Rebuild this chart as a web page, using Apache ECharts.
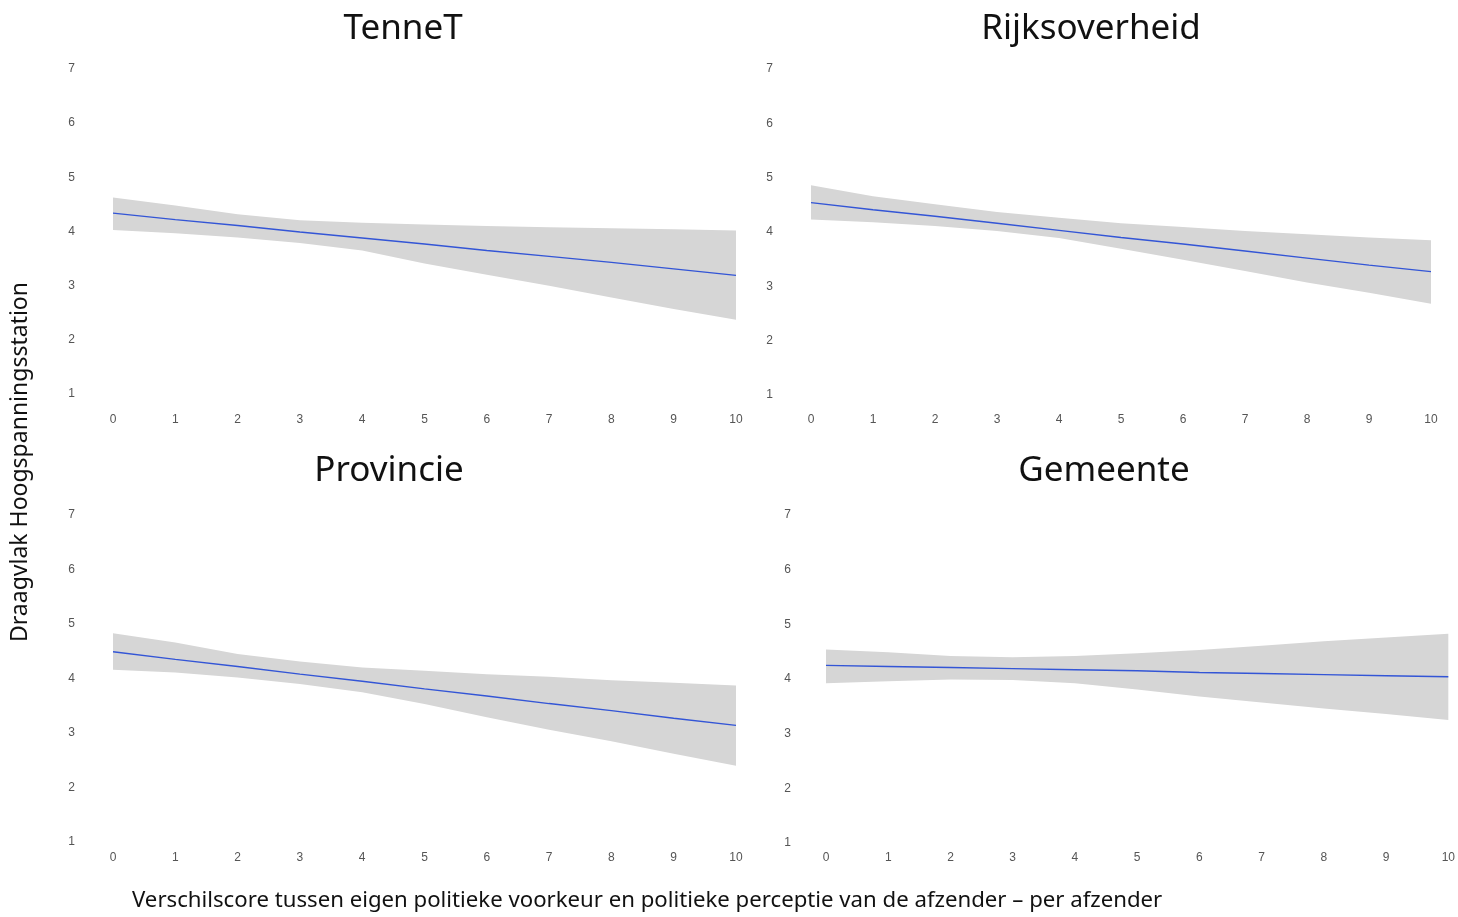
<!DOCTYPE html>
<html>
<head>
<meta charset="utf-8">
<script src="https://cdn.jsdelivr.net/npm/echarts@6/dist/echarts.min.js"></script>
<style>html,body{margin:0;padding:0;background:#fff}#c{width:1458px;height:917px}</style>
</head>
<body>
<div id="c"></div>
<script>
var categories = ['0','1','2','3','4','5','6','7','8','9','10'];
var yTicks = [1,7];
var panelTitles = ['TenneT','Rijksoverheid','Provincie','Gemeente'];

var tennetFit   = [4.34,4.22,4.11,3.99,3.88,3.77,3.65,3.54,3.43,3.31,3.19];
var tennetUpper = [4.63,4.48,4.32,4.21,4.16,4.13,4.10,4.08,4.06,4.04,4.02];
var tennetLower = [4.03,3.97,3.89,3.79,3.65,3.41,3.20,3.00,2.78,2.57,2.37];

var rijkFit   = [4.54,4.41,4.29,4.16,4.03,3.90,3.78,3.65,3.52,3.39,3.27];
var rijkUpper = [4.86,4.66,4.51,4.37,4.26,4.16,4.09,4.02,3.96,3.90,3.85];
var rijkLower = [4.23,4.18,4.11,4.02,3.89,3.69,3.49,3.28,3.07,2.88,2.68];

var provFit   = [4.49,4.35,4.22,4.08,3.95,3.81,3.68,3.54,3.41,3.27,3.14];
var provUpper = [4.83,4.66,4.45,4.31,4.20,4.14,4.08,4.03,3.97,3.92,3.87];
var provLower = [4.16,4.11,4.02,3.90,3.75,3.53,3.29,3.06,2.85,2.62,2.40];

var gemFit   = [4.25,4.23,4.21,4.19,4.17,4.15,4.12,4.10,4.08,4.06,4.04];
var gemUpper = [4.54,4.49,4.42,4.40,4.42,4.47,4.53,4.61,4.69,4.76,4.83];
var gemLower = [3.92,3.96,3.99,3.98,3.92,3.81,3.68,3.57,3.46,3.36,3.25];

var panels = [
  {fit: tennetFit, up: tennetUpper, lo: tennetLower},
  {fit: rijkFit, up: rijkUpper, lo: rijkLower},
  {fit: provFit, up: provUpper, lo: provLower},
  {fit: gemFit, up: gemUpper, lo: gemLower}
];

var grids = [
  {left: 113, width: 623, top: 69, height: 325},
  {left: 811, width: 620, top: 69, height: 326},
  {left: 113, width: 623, top: 515, height: 327},
  {left: 826, width: 626, top: 515, height: 328}
];
var yMargins = [38, 38, 38, 35];
var xMargins = [20, 19, 10, 9];
var titlePos = [{x: 398, y: 7}, {x: 1086, y: 7}, {x: 384, y: 449}, {x: 1099, y: 449}];

var labelStyle = {color: '#555', fontSize: 12, fontFamily: 'Liberation Sans, Arial, sans-serif'};

var xAxes = [], yAxes = [], series = [], titles = [];
panels.forEach(function (p, i) {
  xAxes.push({
    type: 'category', gridIndex: i, data: categories, boundaryGap: false,
    axisLine: {show: false}, axisTick: {show: false}, splitLine: {show: false},
    axisLabel: Object.assign({margin: xMargins[i], interval: 0}, labelStyle)
  });
  yAxes.push({
    type: 'value', gridIndex: i, min: yTicks[0], max: yTicks[1], interval: 1,
    axisLine: {show: false}, axisTick: {show: false}, splitLine: {show: false},
    axisLabel: Object.assign({margin: yMargins[i]}, labelStyle)
  });
  series.push({
    type: 'line', xAxisIndex: i, yAxisIndex: i, stack: 'band' + i, data: p.lo,
    symbol: 'none', lineStyle: {opacity: 0}, silent: true
  });
  series.push({
    type: 'line', xAxisIndex: i, yAxisIndex: i, stack: 'band' + i,
    data: p.up.map(function (v, k) { return +(v - p.lo[k]).toFixed(3); }),
    symbol: 'none', lineStyle: {opacity: 0}, areaStyle: {color: '#d6d6d6', opacity: 1}, silent: true
  });
  series.push({
    type: 'line', xAxisIndex: i, yAxisIndex: i, data: p.fit,
    symbol: 'none', lineStyle: {color: '#3355d6', width: 1.4}, z: 5
  });
  titles.push({
    text: panelTitles[i], left: titlePos[i].x, top: titlePos[i].y, textAlign: 'center',
    textStyle: {fontSize: 35, fontWeight: 'normal', color: '#111', fontFamily: 'Noto Sans, sans-serif'}
  });
});

var chart = echarts.init(document.getElementById('c'), null, {renderer: 'canvas'});
chart.setOption({
  animation: false,
  backgroundColor: '#fff',
  title: titles,
  grid: grids,
  xAxis: xAxes,
  yAxis: yAxes,
  series: series,
  graphic: [
    {type: 'text', left: 132, top: 890, style: {
      text: 'Verschilscore tussen eigen politieke voorkeur en politieke perceptie van de afzender – per afzender',
      fontSize: 22.2, fill: '#111', fontFamily: 'Noto Sans, sans-serif'}},
    {type: 'text', left: 9, top: 282, rotation: Math.PI / 2, style: {
      text: 'Draagvlak Hoogspanningsstation', fontSize: 23, fill: '#111',
      fontFamily: 'Noto Sans, sans-serif'}}
  ]
});
</script>
</body>
</html>
